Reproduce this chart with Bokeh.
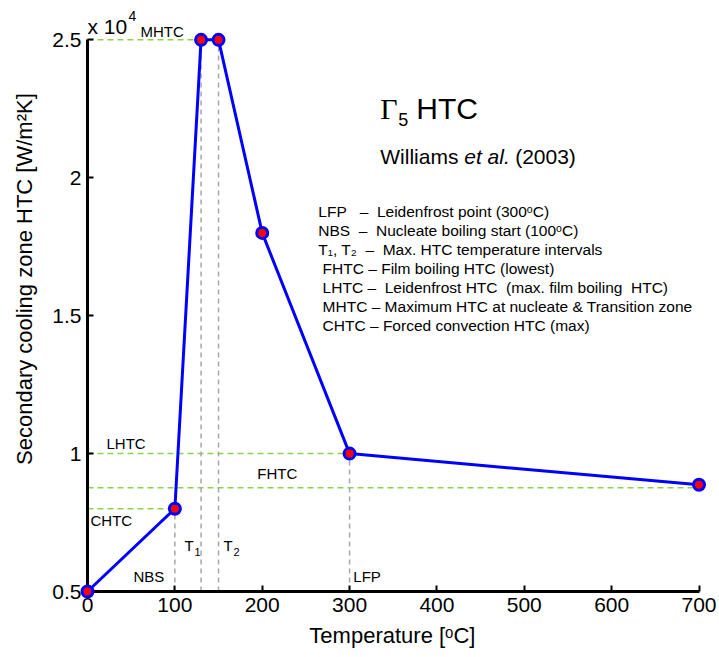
from bokeh.plotting import figure
from bokeh.models import Label, FixedTicker, Range1d
from bokeh.embed import file_html
from bokeh.resources import INLINE

# ---- data (HTC in units of 10^4 W/m^2K) ----
temperature = [0, 100, 130, 150, 200, 300, 700]
htc = [0.5, 0.8, 2.5, 2.5, 1.8, 1.0, 0.887]

x_ticks = [0, 100, 200, 300, 400, 500, 600, 700]
y_ticks = [0.5, 1.0, 1.5, 2.0, 2.5]
y_tick_labels = ["0.5", "1", "1.5", "2", "2.5"]

# characteristic levels / temperatures
mhtc, lhtc, fhtc, chtc = 2.5, 1.0, 0.876, 0.8
nbs_t, t1, t2, lfp_t = 100, 130, 150, 300
y_min, y_max, x_min, x_max = 0.5, 2.5, 0, 700

legend_rows = [
    "LFP\u00a0\u00a0\u00a0\u2013\u00a0\u00a0Leidenfrost point (300\u1d52C)",
    "NBS\u00a0\u00a0\u2013\u00a0\u00a0Nucleate boiling start (100\u1d52C)",
    "T\u2081, T\u2082\u00a0\u00a0\u2013\u00a0\u00a0Max. HTC temperature intervals",
    "\u00a0FHTC \u2013 Film boiling HTC (lowest)",
    "\u00a0LHTC \u2013\u00a0\u00a0Leidenfrost HTC\u00a0\u00a0(max. film boiling\u00a0\u00a0HTC)",
    "\u00a0MHTC \u2013 Maximum HTC at nucleate & Transition zone",
    "\u00a0CHTC \u2013 Forced convection HTC (max)",
]

FONT = "Liberation Sans"

p = figure(width=719, height=657,
           x_range=Range1d(x_min, 712), y_range=Range1d(y_min, 2.61),
           output_backend="svg", toolbar_location=None,
           min_border_left=87, min_border_right=10,
           min_border_top=9, min_border_bottom=66)
p.outline_line_color = None
p.xgrid.grid_line_color = None
p.ygrid.grid_line_color = None
p.background_fill_color = "white"
p.border_fill_color = "white"

for ax in (p.xaxis[0], p.yaxis[0]):
    ax.axis_line_width = 3
    ax.axis_line_color = "black"
    ax.major_tick_in = 6
    ax.major_tick_out = 0
    ax.major_tick_line_width = 2
    ax.minor_tick_line_color = None
    ax.major_label_text_font = FONT
    ax.major_label_text_font_size = "21px"
    ax.major_label_text_color = "black"
    ax.axis_label_text_font = FONT
    ax.axis_label_text_font_size = "22px"
    ax.axis_label_text_font_style = "normal"
    ax.axis_label_text_color = "black"

xa = p.xaxis[0]
xa.ticker = FixedTicker(ticks=x_ticks)
xa.bounds = (x_min, x_max)
xa.axis_label = "Temperature [\u1d52C]\u00a0\u00a0"
xa.major_label_standoff = 6
xa.axis_label_standoff = 8

ya = p.yaxis[0]
ya.ticker = FixedTicker(ticks=y_ticks)
ya.major_label_overrides = {t: l for t, l in zip(y_ticks, y_tick_labels)}
ya.bounds = (y_min, y_max)
ya.axis_label = "\u00a0" * 7 + "Secondary cooling zone HTC [W/m\u00b2K]"
ya.major_label_standoff = 6
ya.axis_label_standoff = 12

# ---- reference lines ----
green = "#8fd14f"
grey = "#a6a6a6"
p.segment(x0=[x_min] * 4, y0=[mhtc, lhtc, fhtc, chtc],
          x1=[t1, lfp_t, x_max, nbs_t], y1=[mhtc, lhtc, fhtc, chtc],
          line_color=green, line_width=1.5, line_dash="6 4")
p.segment(x0=[nbs_t, t1, t2, lfp_t], y0=[y_min] * 4,
          x1=[nbs_t, t1, t2, lfp_t], y1=[chtc, mhtc, mhtc, lhtc],
          line_color=grey, line_width=1.5, line_dash="5 4")

# ---- main curve ----
p.line(temperature, htc, line_color="#0000ff", line_width=3, level="overlay")
p.scatter(temperature, htc, size=11, fill_color="#ff0000",
          line_color="#0000ff", line_width=3, level="overlay")


def dx(px):
    return (px - 87) * 700.0 / 612.0


def dy(py):
    return 2.5 - (py - 39) * 2.0 / 552.0


def lab(px, py, text, size, font=FONT, style="normal"):
    p.add_layout(Label(x=dx(px), y=dy(py), text=text, text_font=font,
                       text_font_size=size, text_font_style=style,
                       text_color="black", text_baseline="middle",
                       text_align="left"))


# exponent
lab(87, 26, "x 10", "21px")
lab(128, 15, "4", "14px")
lab(140, 31, "MHTC", "15px")

# title
lab(380, 108, "\u0393", "30px", font="Liberation Serif")
lab(398, 119, "5", "18px")
lab(416, 108, "HTC", "30px")

lab(380, 156, "Williams", "21px")
lab(464, 156, "et al.", "21px", style="italic")
lab(515, 156, "(2003)", "21px")

for i, row in enumerate(legend_rows):
    lab(318, 211 + i * 19, row, "15.5px")

# annotations on the plot
lab(106, 443, "LHTC", "15px")
lab(257, 473, "FHTC", "15px")
lab(90, 520, "CHTC", "15px")
lab(184, 545, "T", "15px")
lab(194, 551, "1", "11px")
lab(223, 545, "T", "15px")
lab(233, 551, "2", "11px")
lab(133, 576, "NBS", "15px")
lab(353, 576, "LFP", "15px")

open("out.html", "w").write(file_html(p, INLINE))
